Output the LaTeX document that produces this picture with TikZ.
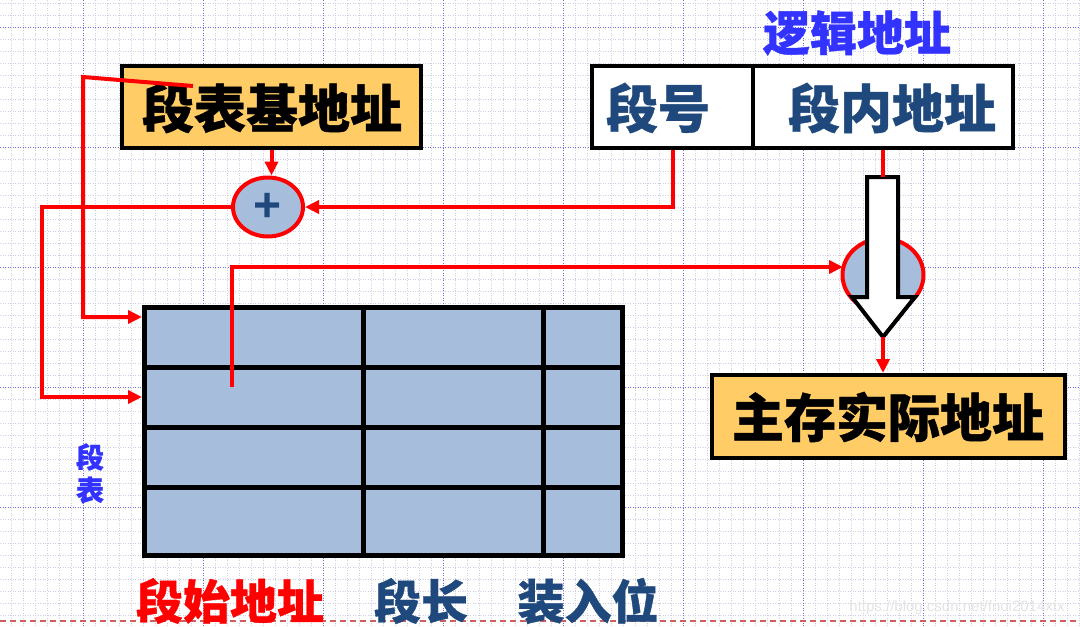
\documentclass[tikz,border=0pt]{standalone}
\usepackage{fontspec}
\setmainfont{Liberation Sans}
\newfontfamily\cjk{Noto Sans CJK SC}[BoldFeatures={FakeBold=0.8}]
\usetikzlibrary{arrows.meta,shapes.geometric,calc}
\definecolor{orangefill}{RGB}{255,204,102}
\definecolor{cellblue}{RGB}{166,189,219}
\definecolor{darkblue}{RGB}{31,73,125}
\definecolor{titleblue}{RGB}{51,51,255}
\definecolor{minorgrid}{RGB}{205,205,228}
\definecolor{majorgrid}{RGB}{110,110,220}
\definecolor{dashred}{RGB}{205,95,95}
\definecolor{wmgray}{RGB}{228,228,228}
\begin{document}
\begin{tikzpicture}[x=1pt,y=-1pt,
  minorline/.style={draw=minorgrid, line width=0.7pt, dash pattern=on 1pt off 1.5pt},
  majorline/.style={draw=majorgrid, line width=0.8pt, dash pattern=on 1pt off 1.5pt},
  redline/.style={draw=red, line width=4pt},
  redarrow/.style={redline, -{Triangle[length=14pt,width=13pt]}},
  labelbox/.style={draw=black, line width=4pt, fill=orangefill, inner sep=0pt},
  addrbox/.style={draw=black, line width=4pt, fill=white, inner sep=0pt, minimum height=82pt},
  bigtext/.style={font=\cjk\bfseries\fontsize{52pt}{52pt}\selectfont},
  captext/.style={font=\cjk\bfseries\fontsize{47pt}{47pt}\selectfont},
  adder/.style={ellipse, draw=red, line width=4pt, fill=cellblue, inner sep=0pt},
  gridline/.style={draw=black, line width=5pt}
]
\useasboundingbox (0,0) rectangle (1080,627);
\fill[white] (0,0) rectangle (1080,627);
% background grid
\foreach \x in {11,23,...,1079} \draw[minorline] (\x,0) -- (\x,627);
\foreach \y in {3,15,...,627} \draw[minorline] (0,\y) -- (1080,\y);
\foreach \x in {83,203,...,1043} \draw[majorline] (\x,0) -- (\x,627);
\foreach \y in {27,147,...,507} \draw[majorline] (0,\y) -- (1080,\y);
\draw[dashred, line width=1.5pt, dash pattern=on 6pt off 4pt] (0,621) -- (1080,621);

% segment table
\node[draw=black, line width=5pt, fill=cellblue, minimum width=478pt, minimum height=248pt, inner sep=0pt] (tbl) at (383.5,431.5) {};
\foreach \y in {367,427,487} \draw[gridline] (tbl.west |- 0,\y) -- (tbl.east |- 0,\y);
\foreach \x in {363,543} \draw[gridline] (\x,0 |- tbl.north) -- (\x,0 |- tbl.south);

% boxes
\node[labelbox, minimum width=299pt, minimum height=82pt] (base) at (271.5,107) {};
\node[bigtext] (basetext) at (272,108) {段表基地址};
\node[addrbox, minimum width=161pt] (seg) at (672.5,107) {};
\node[addrbox, minimum width=260pt] (off) at (883,107) {};
\node[bigtext, text=darkblue] (segtext) at (658,108) {段号};
\node[bigtext, text=darkblue] (offtext) at (892,108) {段内地址};
\node[font=\cjk\bfseries\fontsize{47pt}{47pt}\selectfont, text=titleblue] (logic) at (857,33) {逻辑地址};
\node[labelbox, minimum width=353pt, minimum height=83pt] (phys) at (888.5,416.5) {};
\node[bigtext] (phystext) at (888,417) {主存实际地址};

% adders
\node[adder, minimum width=70pt, minimum height=59pt] (plus) at (268,207) {};
\node[font=\bfseries\fontsize{48pt}{48pt}\selectfont, text=darkblue] (plustext) at (268,207) {+};
\node[adder, minimum width=81pt, minimum height=73pt] (add2) at (883,275) {};

% hollow arrow
\coordinate (atop) at (883,177);
\coordinate (atip) at (883,337);
\draw[line width=4pt, fill=white, line join=miter] (867,177) -- (898,177) -- (898,297) -- (915,297) -- (atip) -- (852,297) -- (867,297) -- cycle;

% labels
\node[font=\cjk\bfseries\fontsize{28pt}{28pt}\selectfont, text=titleblue] (duan) at (90,457) {段};
\node[font=\cjk\bfseries\fontsize{28pt}{28pt}\selectfont, text=titleblue] (biao) at (90,490) {表};
\node[captext, text=red] (c1) at (230,601) {段始地址};
\node[captext, text=darkblue] (c2) at (421,601) {段长};
\node[captext, text=darkblue] (c3) at (588,601) {装入位};
\node[font=\fontsize{15pt}{15pt}\selectfont, text=wmgray] (wm) at (957,608) {https://blog.csdn.net/fnoi2014xtx};

% connectors
\coordinate (s0) at (193,86);
\coordinate (s1) at (83,77);
\coordinate (in1) at (142,317);
\coordinate (l2) at (42,207);
\coordinate (in2) at (142,397);
\coordinate (cellpt) at (232,387);
\coordinate (in3) at (843,267);
\draw[redarrow] (base.south) -- (base.south |- plus.north);
\draw[redarrow] (seg.south) |- (plus.east);
\draw[redarrow] (plus.west) -- (l2) |- (in2);
\draw[redarrow] (s0) -- (s1) |- (in1);
\draw[redarrow] (cellpt) |- (in3);
\draw[redline] (off.south) -- (atop);
\draw[redarrow] (atip) -- (atip |- phys.north);
\end{tikzpicture}
\end{document}
